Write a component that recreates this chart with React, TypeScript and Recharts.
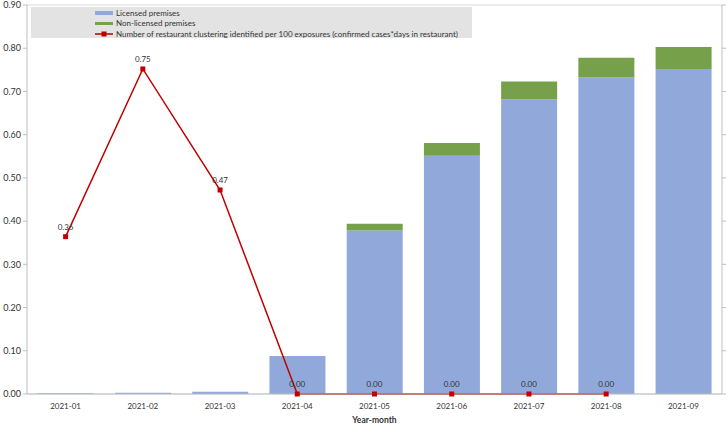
import React from "react";
import {
  ComposedChart,
  Bar,
  Line,
  XAxis,
  YAxis,
  CartesianGrid,
  LabelList,
} from "recharts";

const months = [
  "2021-01",
  "2021-02",
  "2021-03",
  "2021-04",
  "2021-05",
  "2021-06",
  "2021-07",
  "2021-08",
  "2021-09",
];
const licensed = [0.002, 0.003, 0.005, 0.088, 0.378, 0.551, 0.682, 0.732, 0.752];
const nonLicensed = [0, 0, 0, 0, 0.016, 0.03, 0.041, 0.046, 0.051];
const clusters: (number | null)[] = [0.364, 0.752, 0.472, 0, 0, 0, 0, 0, null];
const yTicks = [0, 0.1, 0.2, 0.3, 0.4, 0.5, 0.6, 0.7, 0.8, 0.9];

const data = months.map((m, i) => ({
  month: m,
  licensed: licensed[i],
  nonLicensed: nonLicensed[i],
  clusters: clusters[i],
}));

const BLUE = "#91A9DA";
const GREEN = "#77A04A";
const RED = "#C00000";
const FONT = "Lato, 'Liberation Sans', sans-serif";

const SquareDot = (props: any) => {
  const { cx, cy, value } = props;
  if (value == null || cx == null || cy == null) return null;
  return <rect x={cx - 2.5} y={cy - 2.5} width={5} height={5} fill={RED} />;
};

function LegendBox() {
  const row = { display: "flex", alignItems: "center", height: 10.3 } as const;
  return (
    <div
      style={{
        position: "absolute",
        left: 31,
        top: 7,
        width: 441,
        height: 31,
        background: "#E3E3E3",
        fontFamily: FONT,
        fontSize: 8,
        color: "#333",
        paddingLeft: 64,
        boxSizing: "border-box",
        paddingTop: 1,
      }}
    >
      <div style={row}>
        <span style={{ width: 18, height: 3.5, background: BLUE, marginRight: 3 }} />
        Licensed premises
      </div>
      <div style={row}>
        <span style={{ width: 18, height: 3.5, background: GREEN, marginRight: 3 }} />
        Non-licensed premises
      </div>
      <div style={row}>
        <svg width={18} height={6} style={{ marginRight: 3 }}>
          <line x1={0} y1={3} x2={18} y2={3} stroke={RED} strokeWidth={1.5} />
          <rect x={6.5} y={0.5} width={5} height={5} fill={RED} />
        </svg>
        Number of restaurant clustering identified per 100 exposures (confirmed cases*days in restaurant)
      </div>
    </div>
  );
}

export default function App() {
  return (
    <div
      style={{
        position: "absolute",
        left: 0,
        top: 0,
        width: 727,
        height: 424,
        background: "#fff",
        fontFamily: FONT,
      }}
    >
      <ComposedChart
        width={727}
        height={424}
        data={data}
        margin={{ top: 5, right: 0, bottom: 0, left: 0 }}
        barCategoryGap="14%"
      >
        <CartesianGrid vertical={false} stroke="#D9D9D9" />
        <XAxis
          dataKey="month"
          height={30}
          tickLine={false}
          axisLine={{ stroke: "#BFBFBF" }}
          tick={{ fontSize: 8, fill: "#333", fontFamily: FONT }}
          tickMargin={3}
          interval={0}
          label={{
            value: "Year-month",
            position: "insideBottom",
            offset: 1,
            fontSize: 8.5,
            fontWeight: 700,
            fill: "#333",
            fontFamily: FONT,
          }}
        />
        <YAxis
          yAxisId="left"
          domain={[0, 0.9]}
          ticks={yTicks}
          width={27}
          tickSize={4}
          tickMargin={2}
          interval={0}
          tickFormatter={(v: number) => v.toFixed(2)}
          axisLine={{ stroke: "#BFBFBF" }}
          tickLine={{ stroke: "#BFBFBF" }}
          tick={{ fontSize: 9, fill: "#333", fontFamily: FONT }}
        />
        <YAxis
          yAxisId="right"
          orientation="right"
          domain={[0, 0.9]}
          ticks={yTicks}
          width={5}
          tickSize={4}
          interval={0}
          tickFormatter={() => ""}
          axisLine={{ stroke: "#BFBFBF" }}
          tickLine={{ stroke: "#BFBFBF" }}
        />
        <Bar
          yAxisId="left"
          dataKey="licensed"
          stackId="a"
          fill={BLUE}
          isAnimationActive={false}
        />
        <Bar
          yAxisId="left"
          dataKey="nonLicensed"
          stackId="a"
          fill={GREEN}
          isAnimationActive={false}
        />
        <Line
          yAxisId="right"
          dataKey="clusters"
          stroke={RED}
          strokeWidth={1.5}
          dot={<SquareDot />}
          activeDot={false}
          isAnimationActive={false}
        >
          <LabelList
            dataKey="clusters"
            position="top"
            offset={7}
            formatter={(v: any) => (v == null ? "" : Number(v).toFixed(2))}
            style={{ fontSize: 8, fill: "#333", fontFamily: FONT }}
          />
        </Line>
      </ComposedChart>
      <LegendBox />
    </div>
  );
}
